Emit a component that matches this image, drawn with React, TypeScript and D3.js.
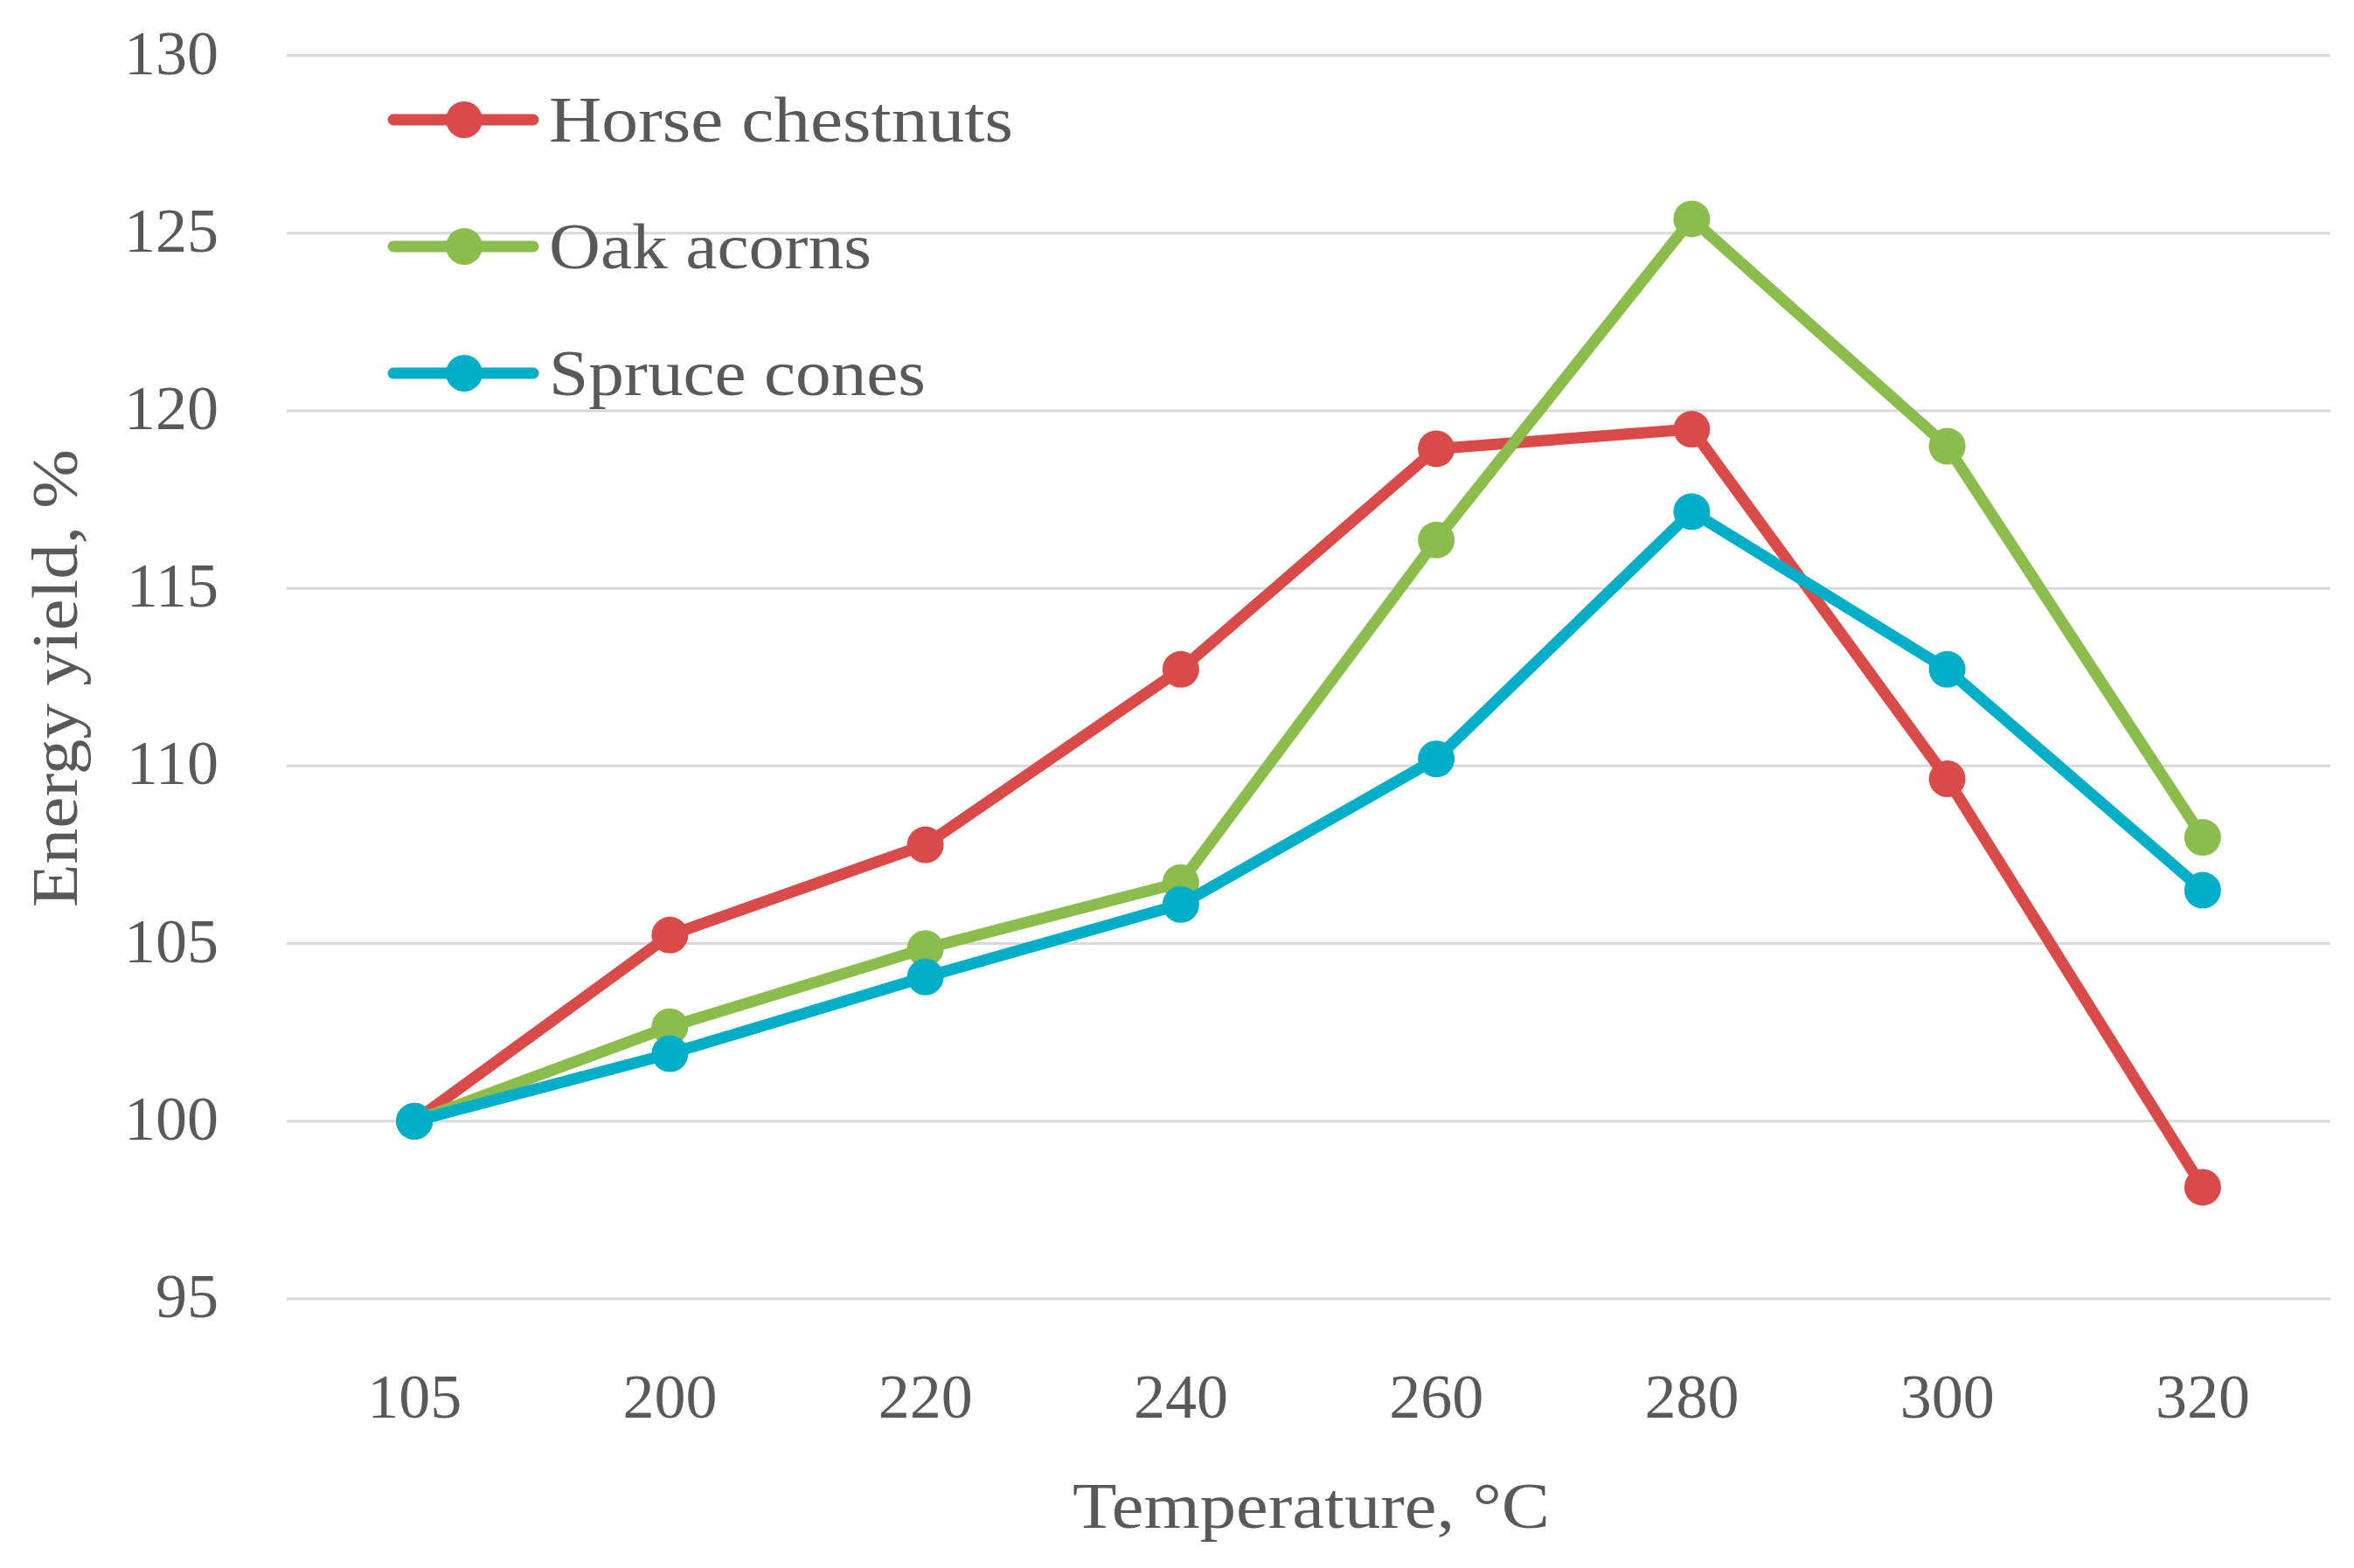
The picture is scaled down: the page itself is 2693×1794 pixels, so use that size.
import React from "react";
import * as d3 from "d3";

const categories = ["105", "200", "220", "240", "260", "280", "300", "320"];
const horseChestnuts = [100, 105.24, 107.78, 112.72, 118.93, 119.48, 109.64, 98.14];
const oakAcorns = [100, 102.66, 104.86, 106.72, 116.36, 125.4, 119.0, 107.99];
const spruceCones = [100, 101.9, 104.06, 106.1, 110.2, 117.16, 112.72, 106.5];
const yTicks = [95, 100, 105, 110, 115, 120, 125, 130];
const seriesNames = ["Horse chestnuts", "Oak acorns", "Spruce cones"];

const W = 2693;
const H = 1794;
const colors = ["#D94B48", "#8CBC4C", "#00AEC8"];
const legendLengths = [531, 369, 431];
const textColor = "#595959";
const font = "'Liberation Serif', 'DejaVu Serif', serif";

export default function App() {
  const plotLeft = 328;
  const plotRight = 2666;
  const x = d3.scaleBand().domain(categories).range([plotLeft, plotRight]).padding(0);
  const y = d3.scaleLinear().domain([95, 130]).range([1486, 63.5]);
  const cx = (c: string) => (x(c) as number) + x.bandwidth() / 2;
  const series = [horseChestnuts, oakAcorns, spruceCones];
  const line = d3
    .line<number>()
    .x((_, i) => cx(categories[i]))
    .y((d) => y(d));

  return (
    <svg
      width={W}
      height={H}
      style={{ position: "absolute", left: 0, top: 0, background: "#fff" }}
      fontFamily={font}
    >
      <rect x={0} y={0} width={W} height={H} fill="#fff" />
      {yTicks.map((t) => (
        <g key={t}>
          <line x1={plotLeft} x2={plotRight} y1={y(t)} y2={y(t)} stroke="#D9D9D9" strokeWidth={3} />
          <text x={250} y={y(t) + 21} textAnchor="end" fontSize={72} fill={textColor}>
            {t}
          </text>
        </g>
      ))}
      {categories.map((c) => (
        <text key={c} x={cx(c)} y={1622} textAnchor="middle" fontSize={72} fill={textColor}>
          {c}
        </text>
      ))}
      <text
        x={(plotLeft + plotRight) / 2 + 3}
        y={1748}
        textAnchor="middle"
        fontSize={74}
        fill={textColor}
        textLength={546}
        lengthAdjust="spacingAndGlyphs"
      >
        Temperature, °C
      </text>
      <text
        transform={`translate(88, 776) rotate(-90)`}
        textAnchor="middle"
        fontSize={74}
        fill={textColor}
        textLength={524}
        lengthAdjust="spacingAndGlyphs"
      >
        Energy yield, %
      </text>
      {series.map((s, si) => (
        <g key={si}>
          <path d={line(s) as string} fill="none" stroke={colors[si]} strokeWidth={13} strokeLinejoin="round" strokeLinecap="round" />
          {s.map((v, i) => (
            <circle key={i} cx={cx(categories[i])} cy={y(v)} r={21} fill={colors[si]} />
          ))}
        </g>
      ))}
      {seriesNames.map((n, i) => {
        const ly = 137 + i * 145;
        return (
          <g key={n}>
            <line x1={450} x2={610} y1={ly} y2={ly} stroke={colors[i]} strokeWidth={13} strokeLinecap="round" />
            <circle cx={531} cy={ly} r={21} fill={colors[i]} />
            <text
              x={628}
              y={ly + 25}
              fontSize={74}
              fill={textColor}
              textLength={legendLengths[i]}
              lengthAdjust="spacingAndGlyphs"
            >
              {n}
            </text>
          </g>
        );
      })}
    </svg>
  );
}
